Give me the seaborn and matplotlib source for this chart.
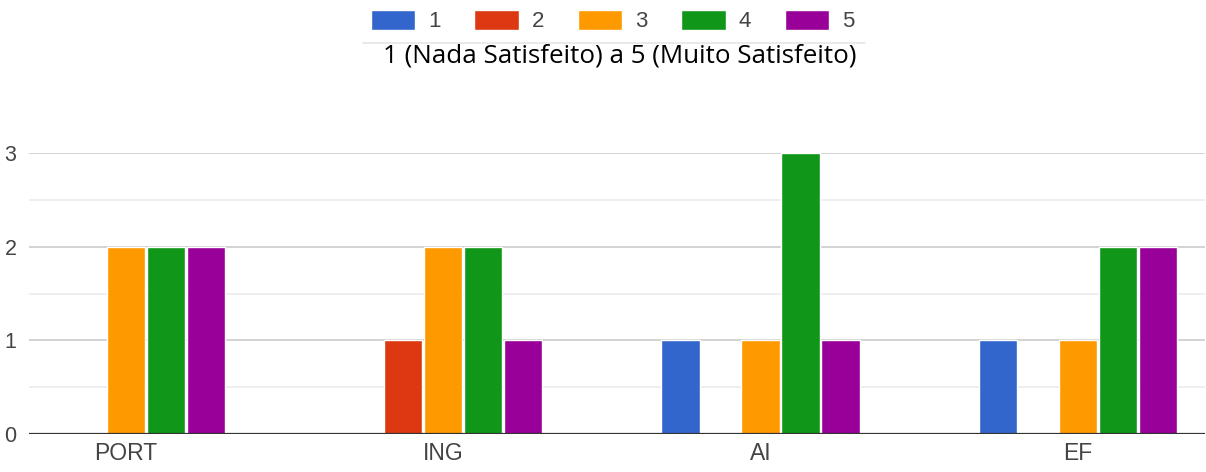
import pandas as pd
import seaborn as sns
import matplotlib.pyplot as plt
from matplotlib.lines import Line2D
from matplotlib.ticker import MultipleLocator

# Data
disciplinas = ['PORT', 'ING', 'AI', 'EF']
niveis = ['1', '2', '3', '4', '5']
nivel_1 = [0, 0, 1, 1]
nivel_2 = [0, 1, 0, 0]
nivel_3 = [2, 2, 1, 1]
nivel_4 = [2, 2, 3, 2]
nivel_5 = [2, 1, 1, 2]
cores = ['#3366cc', '#dc3912', '#ff9900', '#109618', '#990099']
titulo = '1 (Nada Satisfeito) a 5 (Muito Satisfeito)'

series = [nivel_1, nivel_2, nivel_3, nivel_4, nivel_5]
df = pd.DataFrame([
    {'disciplina': d, 'nivel': n, 'contagem': vals[i]}
    for n, vals in zip(niveis, series)
    for i, d in enumerate(disciplinas)
])

sns.set_theme(style='white')
plt.rcParams['font.family'] = ['Liberation Sans', 'DejaVu Sans']

fig = plt.figure(figsize=(12.06, 4.72), dpi=100)
ax = fig.add_axes([0.024, 1 - 434 / 472, 0.975, (434 - 153) / 472])

sns.barplot(
    data=df, x='disciplina', y='contagem', hue='nivel',
    order=disciplinas, hue_order=niveis, palette=cores,
    width=0.63, gap=0.04, saturation=1, ax=ax, legend=True,
)

ax.set_ylim(0, 3)
ax.set_xlim(-0.305, 3.40)
ax.yaxis.set_major_locator(MultipleLocator(1))
ax.yaxis.set_minor_locator(MultipleLocator(0.5))
ax.grid(axis='y', which='major', color='#cccccc', linewidth=1.2, zorder=0)
ax.grid(axis='y', which='minor', color='#ebebeb', linewidth=1.2, zorder=0)
ax.set_axisbelow(True)
ax.axhline(0, color='#333333', linewidth=1.6, zorder=5)
for s in ax.spines.values():
    s.set_visible(False)
ax.set_xlabel('')
ax.set_ylabel('')
ax.tick_params(axis='both', which='both', length=0, colors='#444444')
ax.tick_params(axis='x', labelsize=16.5, pad=6)
ax.tick_params(axis='y', labelsize=15.5, pad=9)

handles, labels = ax.get_legend_handles_labels()
ax.get_legend().remove()
fig.legend(
    handles, labels, loc='center', bbox_to_anchor=(0.508, 1 - 21 / 472),
    ncol=5, frameon=False, fontsize=16, handlelength=2.0, handleheight=1.0,
    handletextpad=0.6, columnspacing=1.5, labelcolor='#444444',
)
fig.add_artist(Line2D([363 / 1206, 865 / 1206], [1 - 43 / 472] * 2,
                      color='#e6e6e6', linewidth=1.2))
fig.text(620 / 1206, 1 - 56 / 472, titulo, ha='center', va='center',
         fontsize=18.7, color='black', family=['Open Sans', 'DejaVu Sans'])

plt.savefig('out.png', dpi=100)
plt.close()
